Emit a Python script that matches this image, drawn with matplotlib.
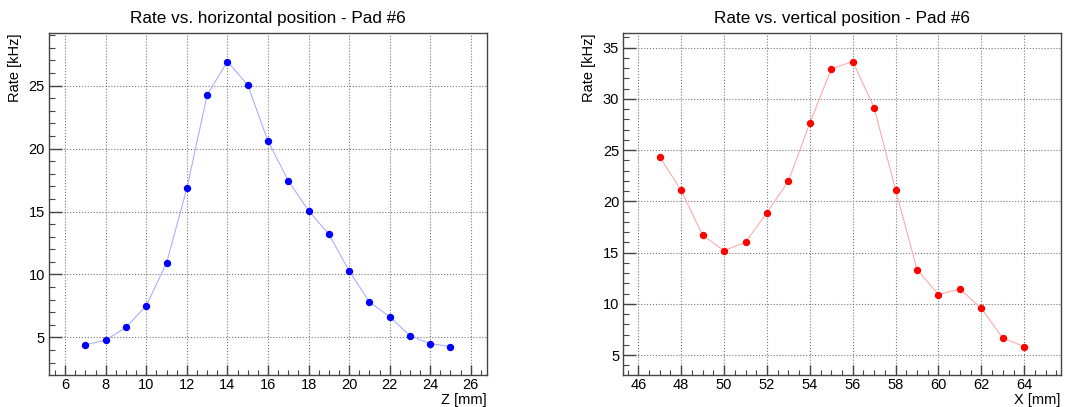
import numpy as np
import matplotlib
matplotlib.use("Agg")
import matplotlib.pyplot as plt
from matplotlib.ticker import MultipleLocator

plt.rcParams['font.family'] = ['Liberation Sans', 'DejaVu Sans']

# horizontal scan (Z)
z_mm = [7, 8, 9, 10, 11, 12, 13, 14, 15, 16, 17, 18, 19, 20, 21, 22, 23, 24, 25]
rate_z = [4.42, 4.79, 5.80, 7.53, 10.93, 16.84, 24.26, 26.91, 25.05, 20.59,
          17.45, 15.06, 13.20, 10.30, 7.82, 6.65, 5.14, 4.50, 4.28]

# vertical scan (X)
x_mm = [47, 48, 49, 50, 51, 52, 53, 54, 55, 56, 57, 58, 59, 60, 61, 62, 63, 64]
rate_x = [24.32, 21.06, 16.69, 15.20, 16.00, 18.90, 21.97, 27.63, 32.92, 33.64,
          29.12, 21.12, 13.34, 10.91, 11.44, 9.57, 6.66, 5.84]

fig = plt.figure(figsize=(10.81, 4.07), dpi=100)


def root_pad(rect, x, y, col, linecol, title, xlabel):
    ax = fig.add_axes(rect)
    ax.plot(x, y, '-', color=linecol, lw=0.8, zorder=2)
    ax.plot(x, y, 'o', color=col, ms=4.3, mec=col, zorder=3)
    # ROOT style 10% margins
    xr = max(x) - min(x)
    yr = max(y) - min(y)
    ax.set_xlim(min(x) - 0.1 * xr, max(x) + 0.1 * xr)
    ax.set_ylim(min(y) - 0.1 * yr, max(y) + 0.1 * yr)
    ax.xaxis.set_major_locator(MultipleLocator(2))
    ax.xaxis.set_minor_locator(MultipleLocator(0.5))
    ax.yaxis.set_major_locator(MultipleLocator(5))
    ax.yaxis.set_minor_locator(MultipleLocator(1))
    ax.grid(True, which='major', ls=':', color='#777777', lw=0.8)
    ax.tick_params(axis='both', which='both', direction='in', top=False, right=False,
                   color='#444444', labelsize=10.5)
    ax.tick_params(axis='x', which='major', length=7, width=1, pad=2)
    ax.tick_params(axis='x', which='minor', length=3.5, width=0.8)
    ax.tick_params(axis='y', which='major', length=9, width=1, pad=3)
    ax.tick_params(axis='y', which='minor', length=4.5, width=0.8)
    for s in ax.spines.values():
        s.set_color('#444444')
        s.set_linewidth(1)
    ax.set_title(title, fontsize=12.3, pad=7)
    ax.text(1.0, -0.052, xlabel, transform=ax.transAxes, ha='right', va='top', fontsize=10.5)
    ax.text(-0.078, 1.0, 'Rate [kHz]', transform=ax.transAxes, ha='center', va='top',
            rotation=90, fontsize=10.5)
    return ax


root_pad([0.0453, 0.0786, 0.4052, 0.8403], z_mm, rate_z, '#0000ff', '#aab0ff',
         'Rate vs. horizontal position - Pad #6', 'Z [mm]')
root_pad([0.5766, 0.0786, 0.4046, 0.8403], x_mm, rate_x, '#ff0000', '#ffaaaa',
         'Rate vs. vertical position - Pad #6', 'X [mm]')

fig.savefig('out.png', dpi=100)
